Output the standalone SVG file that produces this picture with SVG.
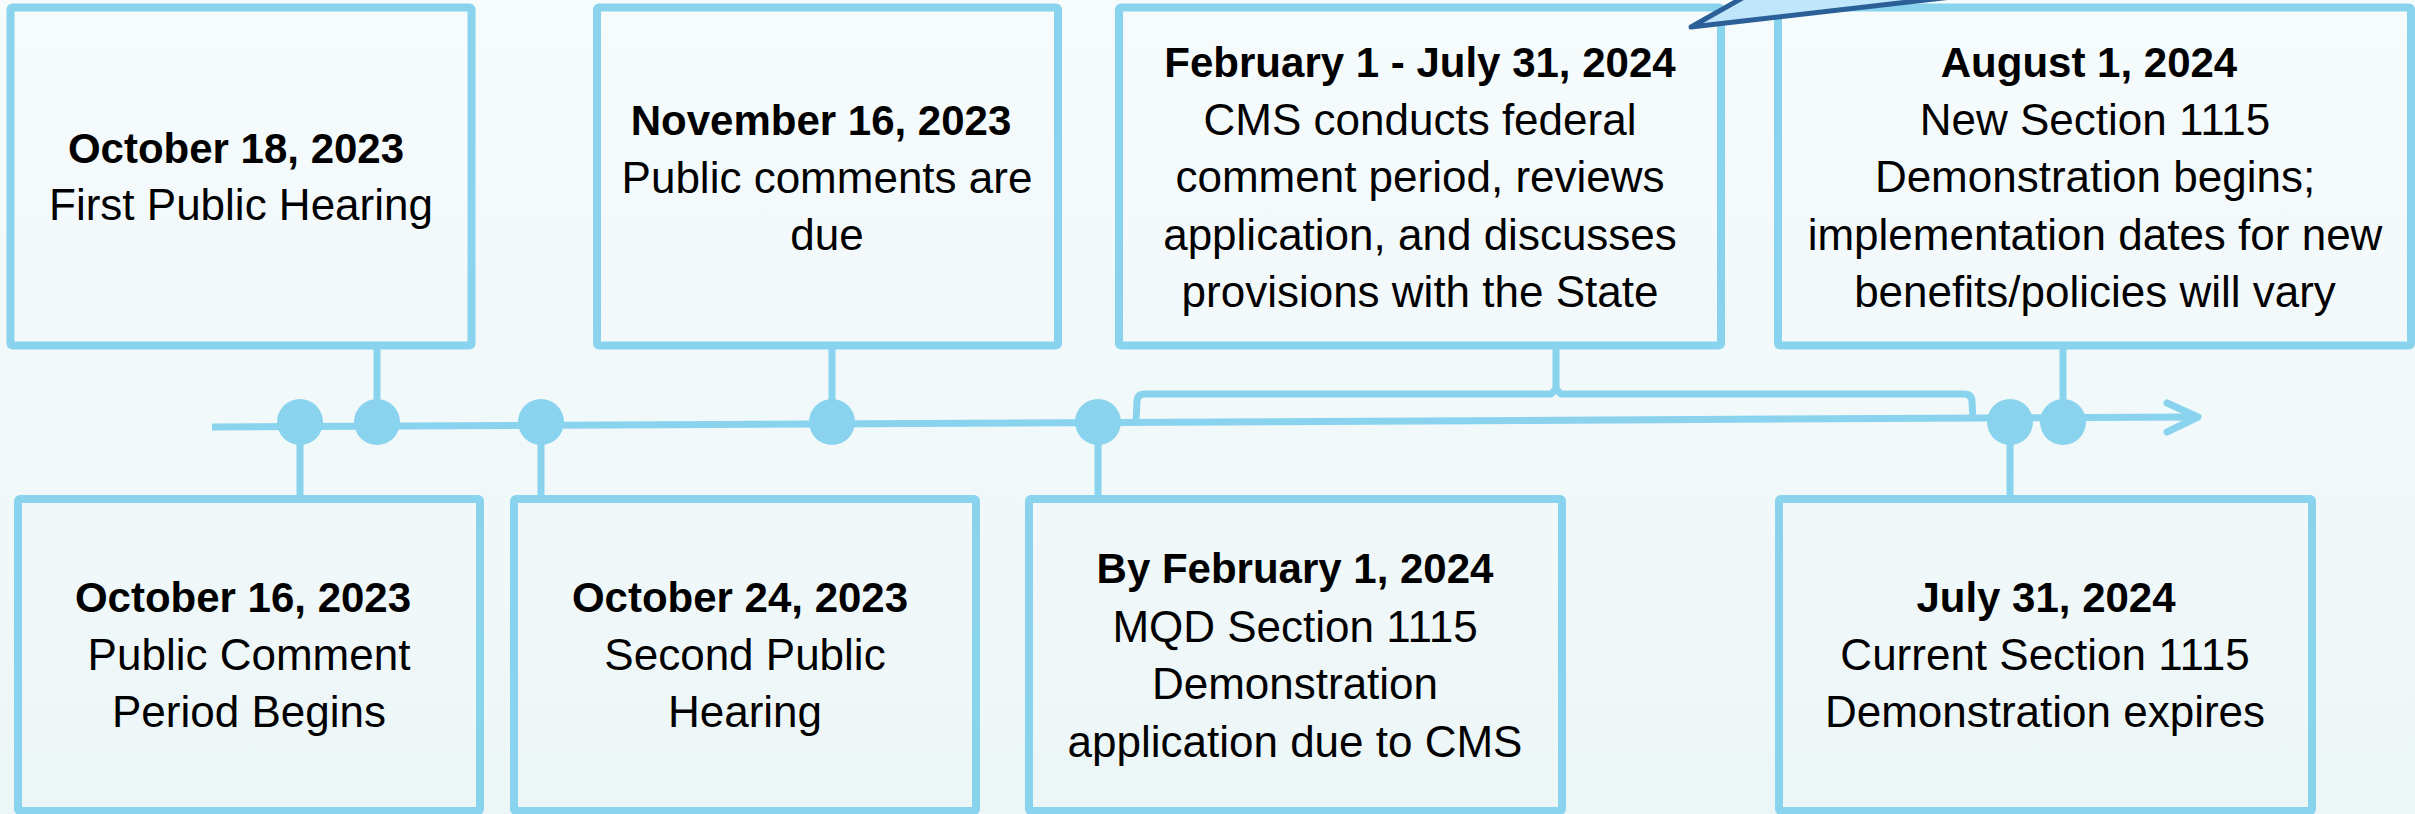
<svg xmlns="http://www.w3.org/2000/svg" width="2415" height="814" viewBox="0 0 2415 814">
  <defs>
    <linearGradient id="bg" x1="0" y1="0" x2="0" y2="1">
      <stop offset="0" stop-color="#f6fbfc"/>
      <stop offset="1" stop-color="#edf6f7"/>
    </linearGradient>
  </defs>
  <style>
    .box { fill: none; stroke: #89d3ef; stroke-width: 8; }
    .conn { stroke: #89d3ef; stroke-width: 7; fill: none; }
    .dot { fill: #89d3ef; }
    text { font-family: "Liberation Sans", Arial, sans-serif; font-size: 44px; fill: #000; text-anchor: middle; }
    .b { font-weight: bold; font-size: 42px; }
  </style>
  <rect x="0" y="0" width="2415" height="814" fill="url(#bg)"/>

  <g id="connectors">
    <line class="conn" x1="212" y1="427" x2="2196" y2="417" stroke-width="8"/>
    <polyline class="conn" points="2167,403 2198,417 2167,432" stroke-width="8" stroke-linecap="round" stroke-linejoin="round"/>
    <line class="conn" x1="300" y1="422" x2="300" y2="499"/>
    <line class="conn" x1="377" y1="345" x2="377" y2="422"/>
    <line class="conn" x1="541" y1="422" x2="541" y2="499"/>
    <line class="conn" x1="832" y1="345" x2="832" y2="422"/>
    <line class="conn" x1="1098" y1="422" x2="1098" y2="499"/>
    <line class="conn" x1="2010" y1="422" x2="2010" y2="499"/>
    <line class="conn" x1="2063" y1="345" x2="2063" y2="422"/>
    <line class="conn" x1="1556" y1="345" x2="1556" y2="390"/>
    <path class="conn" d="M1136,422 L1137,402 Q1137,394 1145,394 L1551,394 L1556,389 L1561,394 L1964,394 Q1972,394 1972,402 L1973,420" stroke-linejoin="round"/>
    <circle class="dot" cx="300" cy="422" r="23"/>
    <circle class="dot" cx="377" cy="422" r="23"/>
    <circle class="dot" cx="541" cy="422" r="23"/>
    <circle class="dot" cx="832" cy="422" r="23"/>
    <circle class="dot" cx="1098" cy="422" r="23"/>
    <circle class="dot" cx="2010" cy="422" r="23"/>
    <circle class="dot" cx="2063" cy="422" r="23"/>
  </g>

  <g id="oct18">
    <rect class="box" x="10.5" y="7.5" width="461" height="338" rx="2"/>
    <text class="b" x="236" y="163">October 18, 2023</text>
    <text x="241" y="220">First Public Hearing</text>
  </g>

  <g id="nov16">
    <rect class="box" x="597" y="7.5" width="461" height="338" rx="2"/>
    <text class="b" x="821" y="135">November 16, 2023</text>
    <text x="827" y="193">Public comments are</text>
    <text x="827" y="250">due</text>
  </g>

  <g id="feb-jul">
    <rect class="box" x="1119" y="7.5" width="602" height="338" rx="2"/>
    <text class="b" x="1420" y="77">February 1 - July 31, 2024</text>
    <text x="1420" y="135">CMS conducts federal</text>
    <text x="1420" y="192">comment period, reviews</text>
    <text x="1420" y="250">application, and discusses</text>
    <text x="1420" y="307">provisions with the State</text>
  </g>

  <g id="aug1">
    <rect class="box" x="1778" y="7.5" width="633" height="338" rx="2"/>
    <text class="b" x="2089" y="77">August 1, 2024</text>
    <text x="2095" y="135">New Section 1115</text>
    <text x="2095" y="192">Demonstration begins;</text>
    <text x="2095" y="250">implementation dates for new</text>
    <text x="2095" y="307">benefits/policies will vary</text>
  </g>

  <g id="oct16">
    <rect class="box" x="18" y="499" width="462" height="312" rx="2"/>
    <text class="b" x="243" y="612">October 16, 2023</text>
    <text x="249" y="670">Public Comment</text>
    <text x="249" y="727">Period Begins</text>
  </g>

  <g id="oct24">
    <rect class="box" x="514" y="499" width="462" height="312" rx="2"/>
    <text class="b" x="740" y="612">October 24, 2023</text>
    <text x="745" y="670">Second Public</text>
    <text x="745" y="727">Hearing</text>
  </g>

  <g id="feb1">
    <rect class="box" x="1029" y="499" width="533" height="312" rx="2"/>
    <text class="b" x="1295" y="583">By February 1, 2024</text>
    <text x="1295" y="642">MQD Section 1115</text>
    <text x="1295" y="699">Demonstration</text>
    <text x="1295" y="757">application due to CMS</text>
  </g>

  <g id="jul31">
    <rect class="box" x="1779" y="499" width="533" height="312" rx="2"/>
    <text class="b" x="2046" y="612">July 31, 2024</text>
    <text x="2045" y="670">Current Section 1115</text>
    <text x="2045" y="727">Demonstration expires</text>
  </g>

  <g id="callout">
    <polygon points="1691,27 1760,-12 2030,-12" fill="#bfe6fa" stroke="#2b5f97" stroke-width="5" stroke-linejoin="round"/>
  </g>
</svg>
